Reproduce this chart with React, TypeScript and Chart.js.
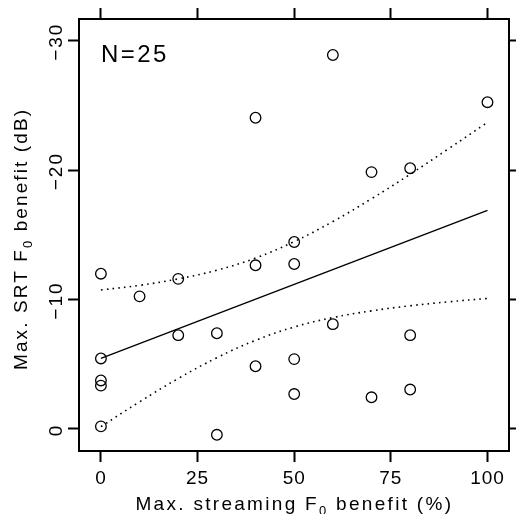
import React, { useEffect, useRef } from "react";
import { Chart, registerables } from "chart.js";

Chart.register(...registerables);

// ---- data ----
const streamingBenefit = [0, 0, 0, 0, 0, 10, 20, 20, 30, 30, 40, 40, 40, 50, 50, 50, 50, 60, 60, 70, 70, 80, 80, 80, 100];
const srtBenefit = [-12.0, -5.45, -3.75, -3.35, -0.2, -10.25, -11.6, -7.25, -7.4, 0.45, -24.05, -12.65, -4.85, -14.45, -12.75, -5.4, -2.7, -28.9, -8.1, -19.85, -2.45, -20.15, -7.25, -3.05, -25.25];

const fitX = [0, 100];
const fitY = [-5.45, -16.9];

const bandX = [0, 10, 20, 30, 40, 50, 60, 70, 80, 90, 100];
const bandUpper = [-10.74, -11.1, -11.6, -12.27, -13.21, -14.48, -16.03, -17.79, -19.68, -21.67, -23.69];
const bandLower = [-0.18, -2.1, -3.9, -5.51, -6.85, -7.88, -8.61, -9.13, -9.52, -9.83, -10.09];

const xTickValues = [0, 25, 50, 75, 100];
const xTickLabels = ["0", "25", "50", "75", "100"];
const yTickValues = [-30, -20, -10, 0];
const yTickLabels = ["\u221230", "\u221220", "\u221210", "0"];

const xTitle = ["Max. streaming F", "0", " benefit (%)"];
const yTitle = ["Max. SRT F", "0", " benefit (dB)"];
const annotation = "N=25";

const FONT = "'Liberation Sans', Arial, Helvetica, sans-serif";

function drawRich(ctx: any, parts: string[], cx: number, cy: number, size: number, spacing: number) {
  const subSize = Math.round(size * 0.7);
  ctx.letterSpacing = `${spacing}px`;
  const widths = parts.map((p, i) => {
    ctx.font = `${i === 1 ? subSize : size}px ${FONT}`;
    return ctx.measureText(p).width;
  });
  const total = widths.reduce((a: number, b: number) => a + b, 0) - spacing;
  let x = cx - total / 2;
  ctx.textAlign = "left";
  ctx.textBaseline = "alphabetic";
  parts.forEach((p, i) => {
    ctx.font = `${i === 1 ? subSize : size}px ${FONT}`;
    ctx.fillText(p, x, cy + (i === 1 ? size * 0.28 : 0));
    x += widths[i];
  });
}

const overlay = {
  id: "overlay",
  beforeDraw(chart: any) {
    (chart.ctx as any).letterSpacing = "1px";
  },
  afterDraw(chart: any) {
    const ctx: any = chart.ctx;
    const ys = chart.scales.y;
    const ca = chart.chartArea;
    ctx.save();
    ctx.fillStyle = "#000";
    // rotated y tick labels
    ctx.font = `19px ${FONT}`;
    ctx.letterSpacing = "2px";
    yTickValues.forEach((v, i) => {
      const py = ys.getPixelForValue(v);
      ctx.save();
      ctx.translate(ca.left - 17, py + 1);
      ctx.rotate(-Math.PI / 2);
      ctx.textAlign = "center";
      ctx.textBaseline = "alphabetic";
      ctx.fillText(yTickLabels[i], 0, 0);
      ctx.restore();
    });
    // x title
    drawRich(ctx, xTitle, (ca.left + ca.right) / 2 - 1, ca.bottom + 59, 19, 2.3);
    // y title
    ctx.save();
    ctx.translate(ca.left - 52, (ca.top + ca.bottom) / 2 + 5);
    ctx.rotate(-Math.PI / 2);
    drawRich(ctx, yTitle, 0, 0, 19, 2.1);
    ctx.restore();
    // N=25
    ctx.font = `24px ${FONT}`;
    ctx.letterSpacing = "2.5px";
    ctx.textAlign = "left";
    ctx.textBaseline = "alphabetic";
    ctx.fillText(annotation, chart.scales.x.getPixelForValue(0), ca.top + 43);
    ctx.restore();
  },
};

const XMIN = -5.67;
const XMAX = 105.67;
const YMIN = -31.68;
const YMAX = 1.7;

function axisCommon() {
  return {
    grid: { drawOnChartArea: false, drawTicks: true, tickLength: 11, tickWidth: 2, tickColor: "#000" },
    border: { display: true, color: "#000", width: 2 },
  };
}

export default function App() {
  const ref = useRef<HTMLCanvasElement | null>(null);
  useEffect(() => {
    if (!ref.current) return;
    const points = streamingBenefit.map((x, i) => ({ x, y: srtBenefit[i] }));
    const fit = fitX.map((x, i) => ({ x, y: fitY[i] }));
    const up = bandX.map((x, i) => ({ x, y: bandUpper[i] }));
    const lo = bandX.map((x, i) => ({ x, y: bandLower[i] }));
    const chart = new Chart(ref.current, {
      type: "scatter",
      data: {
        datasets: [
          {
            data: points,
            showLine: false,
            pointStyle: "circle",
            pointRadius: 5.3,
            pointBorderWidth: 1.3,
            pointBorderColor: "#000",
            pointBackgroundColor: "rgba(0,0,0,0)",
          },
          {
            data: fit,
            showLine: true,
            borderColor: "#000",
            borderWidth: 1.4,
            pointRadius: 0,
          },
          {
            data: up,
            showLine: true,
            borderColor: "#000",
            borderWidth: 1.6,
            borderDash: [1.6, 4.2],
            tension: 0.4,
            pointRadius: 0,
          },
          {
            data: lo,
            showLine: true,
            borderColor: "#000",
            borderWidth: 1.6,
            borderDash: [1.6, 4.2],
            tension: 0.4,
            pointRadius: 0,
          },
        ],
      },
      options: {
        responsive: false,
        animation: false,
        events: [],
        layout: { padding: 0 },
        plugins: { legend: { display: false }, tooltip: { enabled: false }, title: { display: false } },
        scales: {
          x: {
            type: "linear",
            position: "bottom",
            min: XMIN,
            max: XMAX,
            ...axisCommon(),
            afterBuildTicks: (s: any) => {
              s.ticks = xTickValues.map((value) => ({ value }));
            },
            ticks: {
              color: "#000",
              font: { family: FONT, size: 19 },
              padding: 5,
              maxRotation: 0,
              callback: (v: any) => {
                const i = xTickValues.indexOf(Number(v));
                return i >= 0 ? xTickLabels[i] : "";
              },
            },
            afterFit: (s: any) => {
              s.height = 63;
            },
          },
          x2: {
            type: "linear",
            position: "top",
            min: XMIN,
            max: XMAX,
            ...axisCommon(),
            afterBuildTicks: (s: any) => {
              s.ticks = xTickValues.map((value) => ({ value }));
            },
            ticks: { display: false },
            afterFit: (s: any) => {
              s.height = 19;
            },
          },
          y: {
            type: "linear",
            position: "left",
            reverse: true,
            min: YMIN,
            max: YMAX,
            ...axisCommon(),
            afterBuildTicks: (s: any) => {
              s.ticks = yTickValues.map((value) => ({ value }));
            },
            ticks: { display: false },
            afterFit: (s: any) => {
              s.width = 79;
            },
          },
          y2: {
            type: "linear",
            position: "right",
            reverse: true,
            min: YMIN,
            max: YMAX,
            ...axisCommon(),
            afterBuildTicks: (s: any) => {
              s.ticks = yTickValues.map((value) => ({ value }));
            },
            ticks: { display: false },
            afterFit: (s: any) => {
              s.width = 5;
            },
          },
        },
      } as any,
      plugins: [overlay],
    });
    return () => chart.destroy();
  }, []);
  return (
    <div style={{ position: "absolute", left: 0, top: 0, width: 516, height: 514, background: "#fff" }}>
      <canvas ref={ref} width={516} height={514} style={{ display: "block" }} />
    </div>
  );
}
